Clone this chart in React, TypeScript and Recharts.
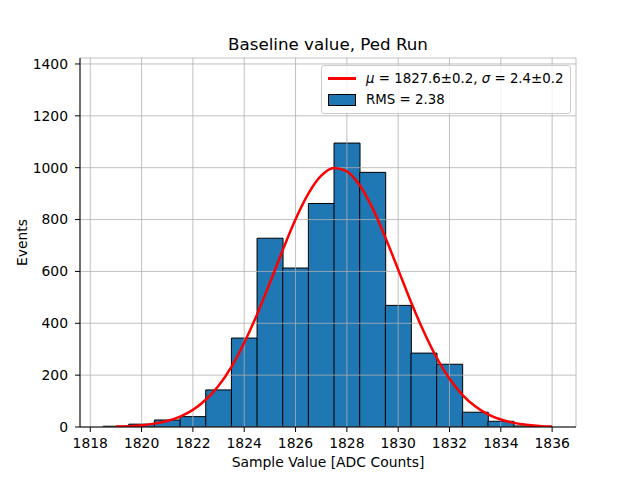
import React from 'react'
import { Bar, CartesianGrid, ComposedChart, Legend, Line, XAxis, YAxis } from 'recharts'

// histogram bins (centre of each 1-count-wide bin) and counts
const binCenters = [1819, 1820, 1821, 1822, 1823, 1824, 1825, 1826, 1827, 1828, 1829, 1830, 1831, 1832, 1833, 1834, 1835]
const binCounts = [3, 11, 27, 40, 143, 343, 728, 613, 862, 1095, 982, 469, 285, 242, 57, 22, 4]

// gaussian fit curve
const fitX = [
    1819, 1819.5, 1820, 1820.5, 1821, 1821.5, 1822, 1822.5, 1823, 1823.5, 1824, 1824.5,
    1825, 1825.5, 1826, 1826.5, 1827, 1827.5, 1828, 1828.5, 1829, 1829.5, 1830, 1830.5,
    1831, 1831.5, 1832, 1832.5, 1833, 1833.5, 1834, 1834.5, 1835, 1835.5, 1836,
]
const fitY = [
    2, 3, 7, 13, 23, 40, 66, 105, 159, 232, 325, 434,
    556, 682, 801, 900, 969, 999, 986, 932, 844, 731, 607, 482,
    367, 267, 186, 124, 80, 49, 29, 16, 9, 4, 2,
]

const xTicks = [1818, 1820, 1822, 1824, 1826, 1828, 1830, 1832, 1834, 1836]
const yTicks = [0, 200, 400, 600, 800, 1000, 1200, 1400]

const binData = binCenters.map((x, i) => ({ x, count: binCounts[i] }))
const fitData = fitX.map((x, i) => ({ x, fit: fitY[i] }))

const FONT = '"DejaVu Sans", sans-serif'
const FS = 13.9
const X_DOMAIN: [number, number] = [1817.6, 1836.93]
const Y_DOMAIN: [number, number] = [0, 1423]

const tickStyle = { fill: '#000', fontSize: FS, fontFamily: FONT }

const LegendBox = () => (
    <div
        style={{
            fontFamily: FONT,
            fontSize: 13.35,
            color: '#000',
            background: 'rgba(255,255,255,0.8)',
            border: '1px solid #cccccc',
            borderRadius: 3,
            padding: '2px 6px 3px 6px',
            lineHeight: '21px',
            whiteSpace: 'nowrap',
        }}
    >
        <div style={{ display: 'flex', alignItems: 'center' }}>
            <span style={{ display: 'inline-block', width: 28, height: 3, background: 'red', marginRight: 10 }} />
            <span>
                <i>μ</i> = 1827.6±0.2, <i>σ</i> = 2.4±0.2
            </span>
        </div>
        <div style={{ display: 'flex', alignItems: 'center' }}>
            <span
                style={{
                    display: 'inline-block',
                    width: 26,
                    height: 10,
                    background: '#1f77b4',
                    border: '1px solid #000',
                    marginRight: 10,
                }}
            />
            <span>RMS = 2.38</span>
        </div>
    </div>
)

const App = () => {
    return (
        <div style={{ position: 'absolute', left: 0, top: 0, width: 640, height: 480, background: '#fff' }}>
            <ComposedChart
                width={640}
                height={480}
                data={binData}
                barCategoryGap={0}
                barGap={0}
                margin={{ top: 58, right: 64, bottom: 23, left: 30 }}
            >
                <text x={328} y={50} textAnchor="middle" fontFamily={FONT} fontSize={16.7} fill="#000">
                    Baseline value, Ped Run
                </text>
                <XAxis
                    xAxisId="bins"
                    dataKey="x"
                    type="number"
                    domain={X_DOMAIN}
                    allowDataOverflow
                    ticks={xTicks}
                    interval={0}
                    height={30}
                    tick={tickStyle}
                    tickSize={5}
                    tickMargin={6}
                    tickLine={{ stroke: '#000' }}
                    axisLine={{ stroke: '#000' }}
                    label={(props: any) => {
                        const vb = props.viewBox
                        return (
                            <text x={vb.x + vb.width / 2} y={467} textAnchor="middle" fontFamily={FONT} fontSize={FS} fill="#000">
                                Sample Value [ADC Counts]
                            </text>
                        )
                    }}
                />
                <XAxis xAxisId="fit" dataKey="x" type="number" domain={X_DOMAIN} allowDataOverflow hide />
                <XAxis
                    xAxisId="top"
                    orientation="top"
                    type="number"
                    domain={X_DOMAIN}
                    height={0}
                    tick={false}
                    tickLine={false}
                    axisLine={{ stroke: '#000' }}
                />
                <YAxis
                    type="number"
                    domain={Y_DOMAIN}
                    allowDataOverflow
                    ticks={yTicks}
                    interval={0}
                    width={50}
                    tick={tickStyle}
                    tickSize={5}
                    tickMargin={7}
                    tickLine={{ stroke: '#000' }}
                    axisLine={{ stroke: '#000' }}
                    label={(props: any) => {
                        const vb = props.viewBox
                        const cy = vb.y + vb.height / 2
                        return (
                            <text
                                x={27}
                                y={cy}
                                transform={`rotate(-90, 27, ${cy})`}
                                textAnchor="middle"
                                fontFamily={FONT}
                                fontSize={FS}
                                fill="#000"
                            >
                                Events
                            </text>
                        )
                    }}
                />
                <YAxis
                    yAxisId="right"
                    orientation="right"
                    type="number"
                    domain={Y_DOMAIN}
                    width={0}
                    tick={false}
                    tickLine={false}
                    axisLine={{ stroke: '#000' }}
                />
                <Bar
                    xAxisId="bins"
                    dataKey="count"
                    fill="#1f77b4"
                    stroke="#000"
                    strokeWidth={1}
                    isAnimationActive={false}
                />
                {/* matplotlib draws the grid over the bars but under the fit line */}
                <CartesianGrid
                    xAxisId="bins"
                    stroke="#b0b0b0"
                    strokeWidth={0.8}
                    fill="none"
                    {...({ zIndex: 350 } as any)}
                />
                <Line
                    xAxisId="fit"
                    data={fitData}
                    dataKey="fit"
                    type="monotone"
                    stroke="red"
                    strokeWidth={2.5}
                    dot={false}
                    activeDot={false}
                    isAnimationActive={false}
                />
                <Legend
                    layout="horizontal"
                    verticalAlign="middle"
                    align="center"
                    wrapperStyle={{ left: 321, top: 65, width: 'auto' }}
                    content={() => <LegendBox />}
                />
            </ComposedChart>
        </div>
    )
}

export default App
